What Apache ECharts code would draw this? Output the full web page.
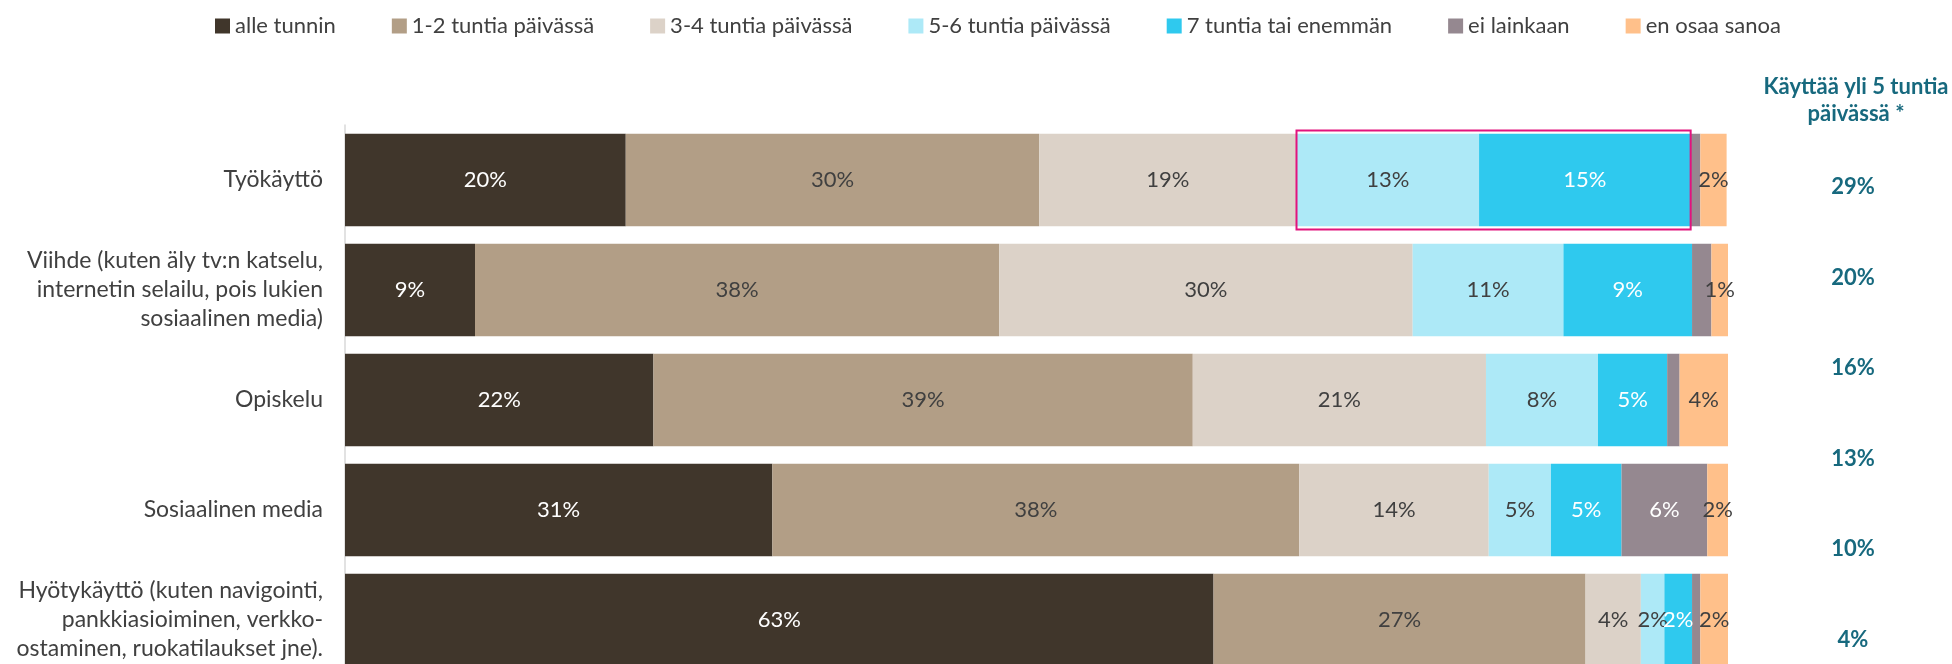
<!DOCTYPE html>
<html>
<head>
    <meta charset="utf-8">
    <title>Laitteen käyttö päivässä</title>
    <script src="https://cdn.jsdelivr.net/npm/echarts@6/dist/echarts.min.js"></script>
    <style>
        html, body { margin: 0; padding: 0; background: #fff; }
        #main { width: 1952px; height: 664px; }
    </style>
</head>
<body>
<div id="main"></div>
<script>
    // luokat (ylhäältä alas)
    var categories = [
        'Työkäyttö',
        'Viihde (kuten äly tv:n katselu,\ninternetin selailu, pois lukien\nsosiaalinen media)',
        'Opiskelu',
        'Sosiaalinen media',
        'Hyötykäyttö (kuten navigointi,\npankkiasioiminen, verkko-\nostaminen, ruokatilaukset jne).'
    ];
    var seriesNames = ['alle tunnin', '1-2 tuntia päivässä', '3-4 tuntia päivässä', '5-6 tuntia päivässä',
        '7 tuntia tai enemmän', 'ei lainkaan', 'en osaa sanoa'];
    var alleTunnin = [20.3, 9.4, 22.3, 30.9, 62.8];
    var tuntia12 = [29.9, 37.9, 39.0, 38.1, 26.9];
    var tuntia34 = [18.6, 29.9, 21.2, 13.7, 4.0];
    var tuntia56 = [13.2, 10.9, 8.1, 4.5, 1.7];
    var tuntia7 = [15.3, 9.3, 5.0, 5.1, 2.0];
    var eiLainkaan = [0.7, 1.4, 0.9, 6.2, 0.6];
    var enOsaa = [1.9, 1.2, 3.6, 1.5, 2.0];
    // oikean reunan sarake
    var yli5Header = 'Käyttää yli 5 tuntia\npäivässä *';
    var yli5 = [29, 20, 16, 13, 10, 4];

    var values = [alleTunnin, tuntia12, tuntia34, tuntia56, tuntia7, eiLainkaan, enOsaa];
    var colors = ['#40362B', '#B29E86', '#DCD2C8', '#ADE9F7', '#2FC9EE', '#958890', '#FFC08A'];
    var labelColors = ['#fff', '#404040', '#404040', '#404040', '#fff', '#fff', '#404040'];
    var FONT = 'Lato';
    var TEAL = '#17697E';

    var series = values.map(function (v, i) {
        return {
            name: seriesNames[i],
            type: 'bar',
            stack: 'total',
            barCategoryGap: '16%',
            data: v,
            itemStyle: { color: colors[i] },
            label: {
                show: true,
                position: 'inside',
                color: labelColors[i],
                fontFamily: FONT,
                fontSize: 22,
                formatter: function (p) {
                    if (i === 5 && p.value < 3) return '';
                    return Math.round(p.value) + '%';
                }
            }
        };
    });

    // korostettu alue: Työkäyttö, 5-6 ja 7+ tuntia
    var row = 0;
    var boxStart = alleTunnin[row] + tuntia12[row] + tuntia34[row];
    var boxEnd = boxStart + tuntia56[row] + tuntia7[row];
    series.push({
        type: 'custom',
        silent: true,
        z: 10,
        data: [[boxStart, boxEnd, row]],
        renderItem: function (params, api) {
            var p0 = api.coord([api.value(0), api.value(2)]);
            var p1 = api.coord([api.value(1), api.value(2)]);
            var h = api.size([0, 1])[1] * 0.9;
            return {
                type: 'rect',
                shape: { x: p0[0], y: p0[1] - h / 2, width: p1[0] - p0[0], height: h },
                style: { fill: 'none', stroke: '#E2137D', lineWidth: 2 }
            };
        }
    });

    // oikean sarakkeen luvut
    series.push({
        type: 'scatter',
        xAxisIndex: 1,
        yAxisIndex: 1,
        silent: true,
        symbolSize: 0,
        itemStyle: { opacity: 1 },
        data: yli5.map(function (v, i) { return [0.5, i, v]; }),
        label: {
            show: true,
            position: 'inside',
            fontFamily: FONT, fontSize: 22, fontWeight: 'bold', color: TEAL, opacity: 1,
            formatter: function (p) { return p.value[2] + '%'; }
        }
    });

    var option = {
        animation: false,
        legend: {
            data: seriesNames,
            left: 210,
            top: 10,
            itemWidth: 15,
            itemHeight: 15,
            itemGap: 56,
            itemStyle: { borderWidth: 0 },
            icon: 'rect',
            textStyle: { fontFamily: FONT, fontSize: 22, color: '#404040' }
        },
        title: {
            text: yli5Header,
            left: 1851,
            top: 68,
            textAlign: 'center',
            textStyle: { fontFamily: FONT, fontSize: 22, fontWeight: 'bold', color: TEAL, lineHeight: 27 }
        },
        grid: [
            { left: 345, right: 224, top: 125, height: 550, outerBoundsMode: 'none' },
            { left: 1800, width: 106, top: 142, height: 543, outerBoundsMode: 'none' }
        ],
        xAxis: [
            { type: 'value', min: 0, max: 100, show: false, gridIndex: 0 },
            { type: 'value', min: 0, max: 1, show: false, gridIndex: 1 }
        ],
        yAxis: [
            {
                type: 'category',
                gridIndex: 0,
                data: categories,
                inverse: true,
                axisLine: { lineStyle: { color: '#D9D9D9', width: 1.5 } },
                axisTick: { show: false },
                axisLabel: {
                    fontFamily: FONT, fontSize: 23, color: '#404040',
                    margin: 22, lineHeight: 29, align: 'right'
                }
            },
            {
                type: 'category',
                gridIndex: 1,
                data: yli5.map(function (v, i) { return i; }),
                inverse: true,
                show: false
            }
        ],
        series: series
    };

    var chart = echarts.init(document.getElementById('main'));
    chart.setOption(option);
</script>
</body>
</html>
